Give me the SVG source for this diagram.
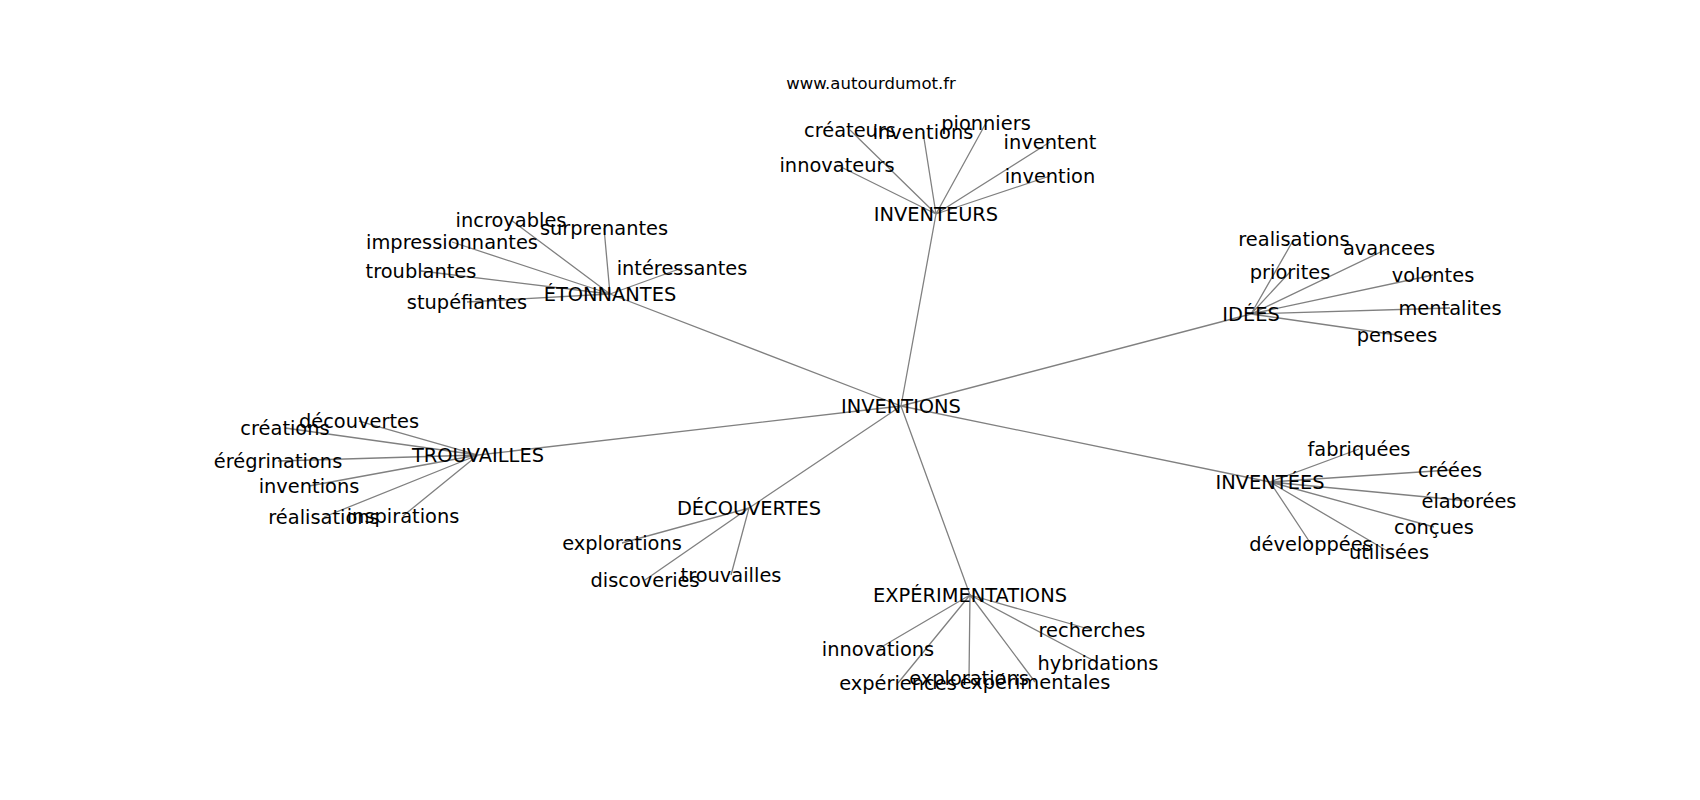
<svg xmlns="http://www.w3.org/2000/svg" width="1700" height="800" viewBox="0 0 1700 800">
<style>
.e{stroke:#808080;stroke-width:1.3;fill:none}
text{font-family:"DejaVu Sans",Verdana,sans-serif;font-size:19.4px;fill:#000;text-anchor:middle;dominant-baseline:central}
.w{font-size:16.5px}
</style>
<rect width="1700" height="800" fill="#fff"/>
<text class="w" x="871" y="83">www.autourdumot.fr</text>
<g id="edges">
<path class="e" d="M901,406 L936,214 M901,406 L610,294 M901,406 L1251,314 M901,406 L478,455 M901,406 L749,508 M901,406 L1270,482 M901,406 L970,595"/>
<path class="e" d="M936,214 L850,130 M936,214 L923,132 M936,214 L986,123 M936,214 L1050,142 M936,214 L1050,176 M936,214 L837,165"/>
<path class="e" d="M610,294 L511,220 M610,294 L604,228 M610,294 L452,242 M610,294 L421,271 M610,294 L467,302 M610,294 L682,268"/>
<path class="e" d="M1251,314 L1294,239 M1251,314 L1389,248 M1251,314 L1290,272 M1251,314 L1433,275 M1251,314 L1450,308 M1251,314 L1397,335"/>
<path class="e" d="M478,455 L359,421 M478,455 L285,428 M478,455 L278,461 M478,455 L309,486 M478,455 L324,517 M478,455 L403,516"/>
<path class="e" d="M749,508 L622,543 M749,508 L645,580 M749,508 L731,575"/>
<path class="e" d="M1270,482 L1359,449 M1270,482 L1450,470 M1270,482 L1469,501 M1270,482 L1434,527 M1270,482 L1389,552 M1270,482 L1311,544"/>
<path class="e" d="M970,595 L1092,630 M970,595 L1098,663 M970,595 L878,649 M970,595 L898,683 M970,595 L969,678 M970,595 L1035,682"/>
</g>
<g id="n-inventions"><text x="901" y="406">INVENTIONS</text></g>
<g id="n-inventeurs"><text x="936" y="214">INVENTEURS</text></g>
<g id="n-createurs"><text x="850" y="130">créateurs</text></g>
<g id="n-inventions2"><text x="923" y="132">inventions</text></g>
<g id="n-pionniers"><text x="986" y="123">pionniers</text></g>
<g id="n-inventent"><text x="1050" y="142">inventent</text></g>
<g id="n-invention"><text x="1050" y="176">invention</text></g>
<g id="n-innovateurs"><text x="837" y="165">innovateurs</text></g>
<g id="n-etonnantes"><text x="610" y="294">ÉTONNANTES</text></g>
<g id="n-incroyables"><text x="511" y="220">incroyables</text></g>
<g id="n-surprenantes"><text x="604" y="228">surprenantes</text></g>
<g id="n-impressionnantes"><text x="452" y="242">impressionnantes</text></g>
<g id="n-troublantes"><text x="421" y="271">troublantes</text></g>
<g id="n-stupefiantes"><text x="467" y="302">stupéfiantes</text></g>
<g id="n-interessantes"><text x="682" y="268">intéressantes</text></g>
<g id="n-idees"><text x="1251" y="314">IDÉES</text></g>
<g id="n-realisations"><text x="1294" y="239">realisations</text></g>
<g id="n-avancees"><text x="1389" y="248">avancees</text></g>
<g id="n-priorites"><text x="1290" y="272">priorites</text></g>
<g id="n-volontes"><text x="1433" y="275">volontes</text></g>
<g id="n-mentalites"><text x="1450" y="308">mentalites</text></g>
<g id="n-pensees"><text x="1397" y="335">pensees</text></g>
<g id="n-trouvailles"><text x="478" y="455">TROUVAILLES</text></g>
<g id="n-decouvertes"><text x="359" y="421">découvertes</text></g>
<g id="n-creations"><text x="285" y="428">créations</text></g>
<g id="n-eregrinations"><text x="278" y="461">érégrinations</text></g>
<g id="n-inventions3"><text x="309" y="486">inventions</text></g>
<g id="n-realisations2"><text x="324" y="517">réalisations</text></g>
<g id="n-inspirations"><text x="403" y="516">inspirations</text></g>
<g id="n-decouvertes2"><text x="749" y="508">DÉCOUVERTES</text></g>
<g id="n-explorations"><text x="622" y="543">explorations</text></g>
<g id="n-discoveries"><text x="645" y="580">discoveries</text></g>
<g id="n-trouvailles2"><text x="731" y="575">trouvailles</text></g>
<g id="n-inventees"><text x="1270" y="482">INVENTÉES</text></g>
<g id="n-fabriquees"><text x="1359" y="449">fabriquées</text></g>
<g id="n-creees"><text x="1450" y="470">créées</text></g>
<g id="n-elaborees"><text x="1469" y="501">élaborées</text></g>
<g id="n-concues"><text x="1434" y="527">conçues</text></g>
<g id="n-utilisees"><text x="1389" y="552">utilisées</text></g>
<g id="n-developpees"><text x="1311" y="544">développées</text></g>
<g id="n-experimentations"><text x="970" y="595">EXPÉRIMENTATIONS</text></g>
<g id="n-recherches"><text x="1092" y="630">recherches</text></g>
<g id="n-hybridations"><text x="1098" y="663">hybridations</text></g>
<g id="n-innovations"><text x="878" y="649">innovations</text></g>
<g id="n-experiences"><text x="898" y="683">expériences</text></g>
<g id="n-explorations2"><text x="969" y="678">explorations</text></g>
<g id="n-experimentales"><text x="1035" y="682">expérimentales</text></g>
</svg>
